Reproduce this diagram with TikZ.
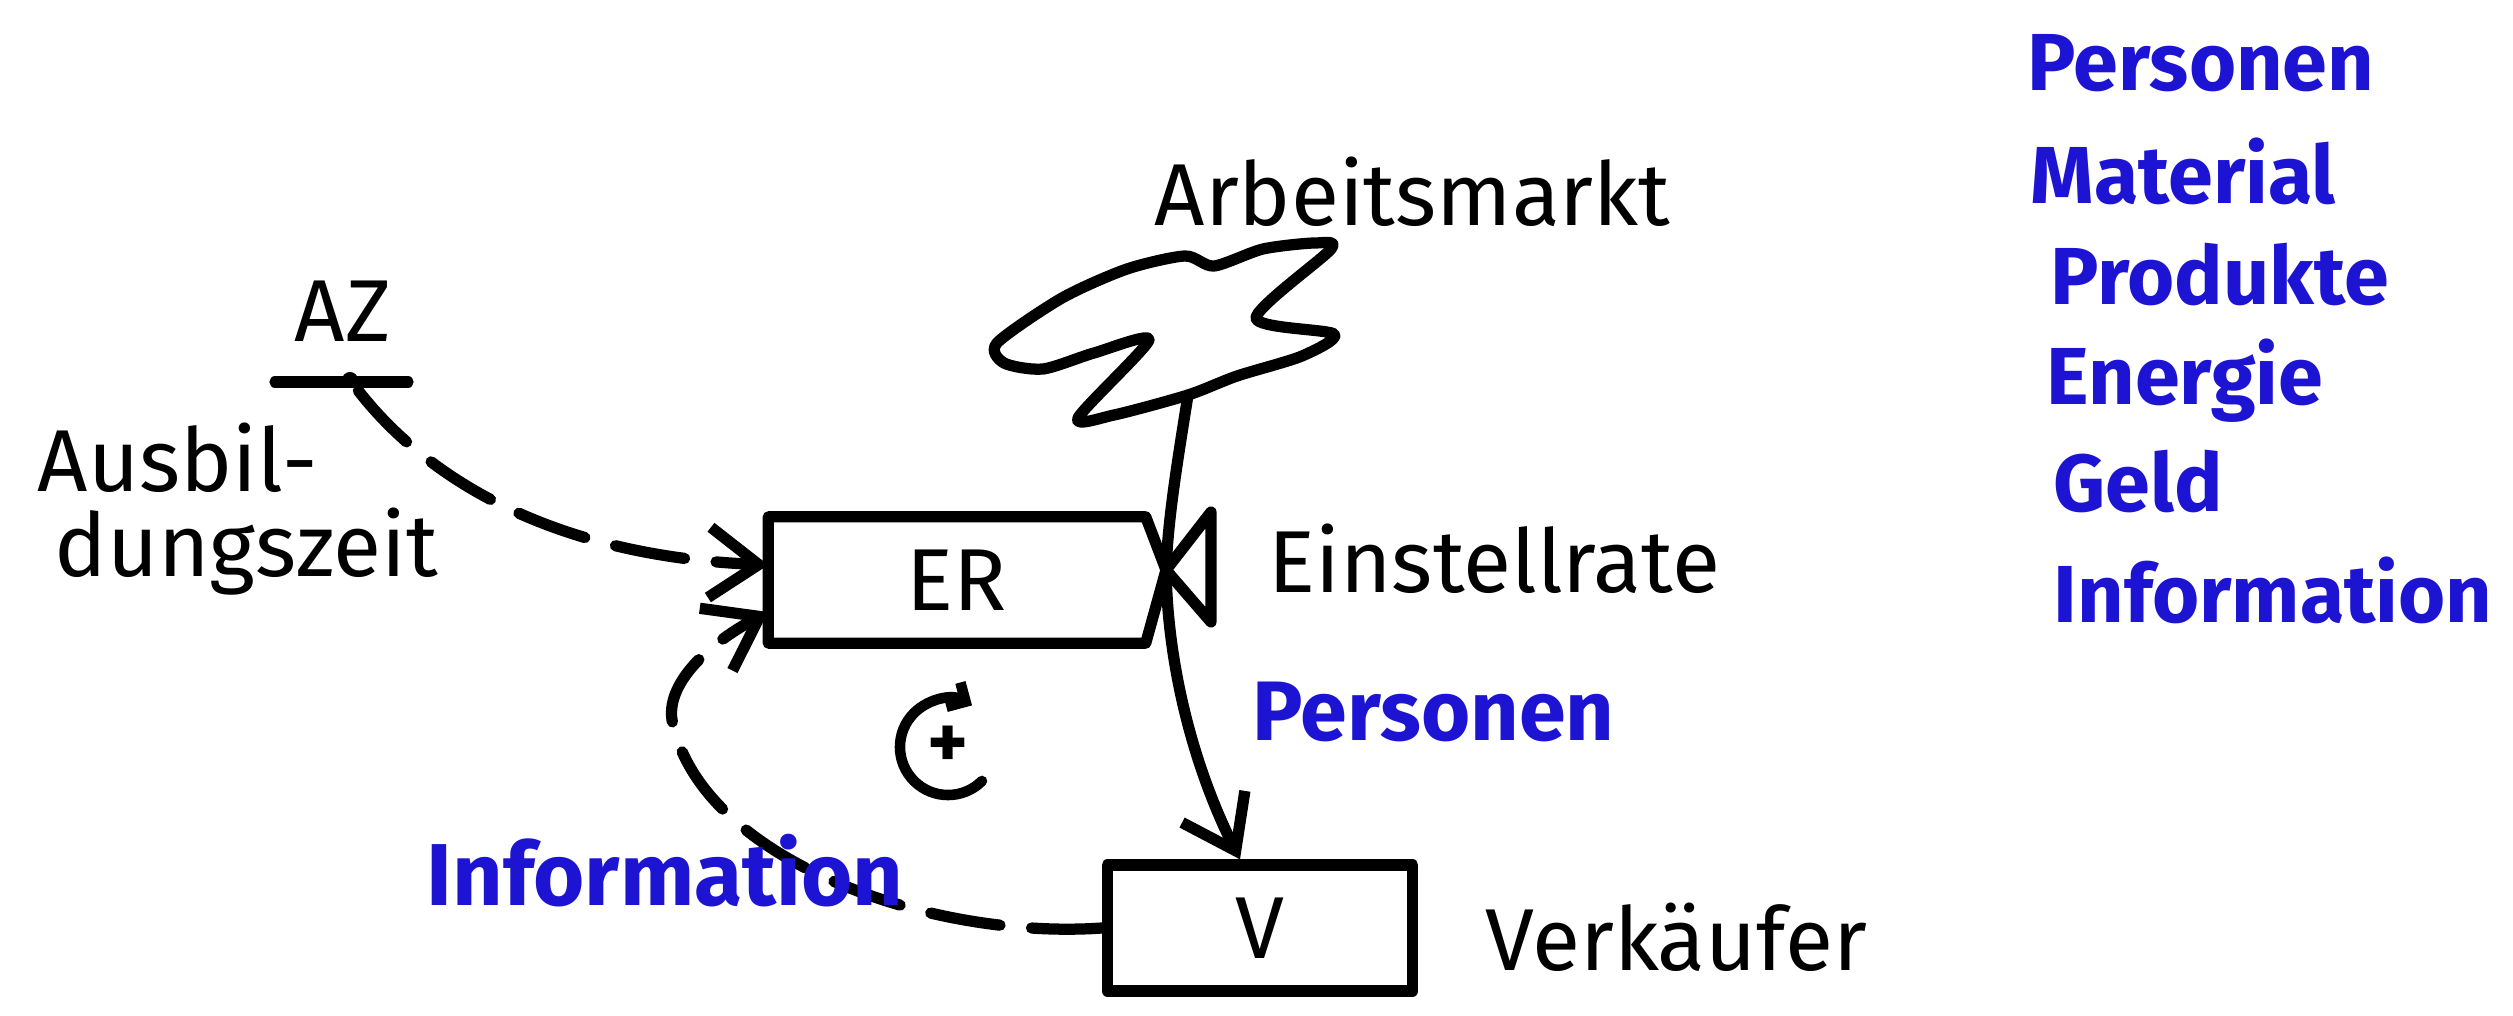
\documentclass[tikz,border=0pt]{standalone}
\usepackage{fontspec}
\setmainfont{Fira Sans}
\usetikzlibrary{arrows.meta}
\definecolor{inkblue}{RGB}{28,20,210}

\begin{document}
\begin{tikzpicture}[x=0.01cm,y=-0.01cm,
        line width=3.2pt, line cap=round, line join=round,
        lbl/.style={inner sep=0pt,font=\fontsize{25}{30}\selectfont},
        bluelbl/.style={inner sep=0pt,text=inkblue,font=\fontsize{23}{28}\selectfont\bfseries},
        stock/.style={draw,inner sep=0pt,font=\fontsize{25}{30}\selectfont},
        barb/.style={-{Straight Barb[length=14pt,width=20pt]}},
        infolink/.style={barb,dash pattern=on 20pt off 9pt}]
        \useasboundingbox (0,0) rectangle (2513,1016);

        % Stocks
        \node[stock,draw=none,minimum width=3.66cm,minimum height=1.15cm] (ER) at (957,580) {ER};
        \coordinate (valve) at (1166,570);
        \draw (ER.north west) -- (ER.north east) -- (valve) -- (ER.south east) -- (ER.south west) -- cycle; % ER with pointed side
        \node[stock,minimum width=3.05cm,minimum height=1.26cm] (V) at (1260,928) {V};

        % Valve on the flow
        \draw (valve) -- (1211,512) -- (1211,622) -- cycle;

        % Cloud (source)
        \draw plot[smooth cycle,tension=0.45] coordinates {(997,343) (1062,298) (1127,269) (1185,256) (1214,266) (1263,249) (1315,243) (1331,249) (1256,318) (1334,334) (1302,356) (1237,376) (1188,395) (1114,415) (1078,418) (1149,340) (1094,353) (1043,369) (1004,363)};
        \coordinate (stem) at (1188,395);

        % Flow
        \draw (stem) .. controls (1176,470) and (1168,520) .. (valve);
        \draw[barb] (valve) .. controls (1168,680) and (1200,780) .. ([xshift=-2mm]V.north);

        % Auxiliary AZ
        \node[lbl] (AZ) at (343,311) {AZ};
        \draw (275,382) -- (408,382);
        \node[circle,fill,inner sep=0pt,minimum size=0.16cm] (azdot) at (350,380) {};
        \draw[infolink] (azdot) .. controls (420,470) and (540,555) .. ([yshift=1.5mm]ER.west);
        \node[lbl,anchor=base west] (ausbil) at (32,492) {Ausbil-};
        \node[lbl,anchor=base west] (dungszeit) at (49,577) {dungszeit};

        % Feedback loop
        \draw[infolink] (V.west) .. controls (930,940) and (700,860) .. (672,720) .. controls (666,680) and (715,640) .. ([yshift=-3.2mm]ER.west);
        \node[lbl,font=\fontsize{22}{26}\selectfont\bfseries] (plus) at (948,747) {+};
        \coordinate (loopc) at (948,747);
        \draw[line width=3pt,-{Straight Barb[length=4pt,width=8pt]}] ([shift={(-45:0.48cm)}]loopc) arc[start angle=-45,end angle=-300,radius=0.48cm];

        % Labels
        \node[lbl,anchor=base west] (markt) at (1149,226) {Arbeitsmarkt};
        \node[lbl,anchor=base west] (rate) at (1263,593) {Einstellrate};
        \node[bluelbl,font=\fontsize{24}{28}\selectfont\bfseries,anchor=base west] (flowkind) at (1247,740) {Personen};
        \node[lbl,anchor=base west] (verk) at (1480,970) {Verkäufer};
        \node[bluelbl,font=\fontsize{25}{30}\selectfont\bfseries,anchor=base west] (infokind) at (421,905) {Information};

        % Kinds of flows
        \node[bluelbl,anchor=base west] (kind1) at (2022,91) {Personen};
        \node[bluelbl,anchor=base west] (kind2) at (2025,204) {Material};
        \node[bluelbl,anchor=base west] (kind3) at (2045,305) {Produkte};
        \node[bluelbl,anchor=base west] (kind4) at (2041,405) {Energie};
        \node[bluelbl,anchor=base west] (kind5) at (2048,512) {Geld};
        \node[bluelbl,anchor=base west] (kind6) at (2048,622) {Information};
\end{tikzpicture}
\end{document}
